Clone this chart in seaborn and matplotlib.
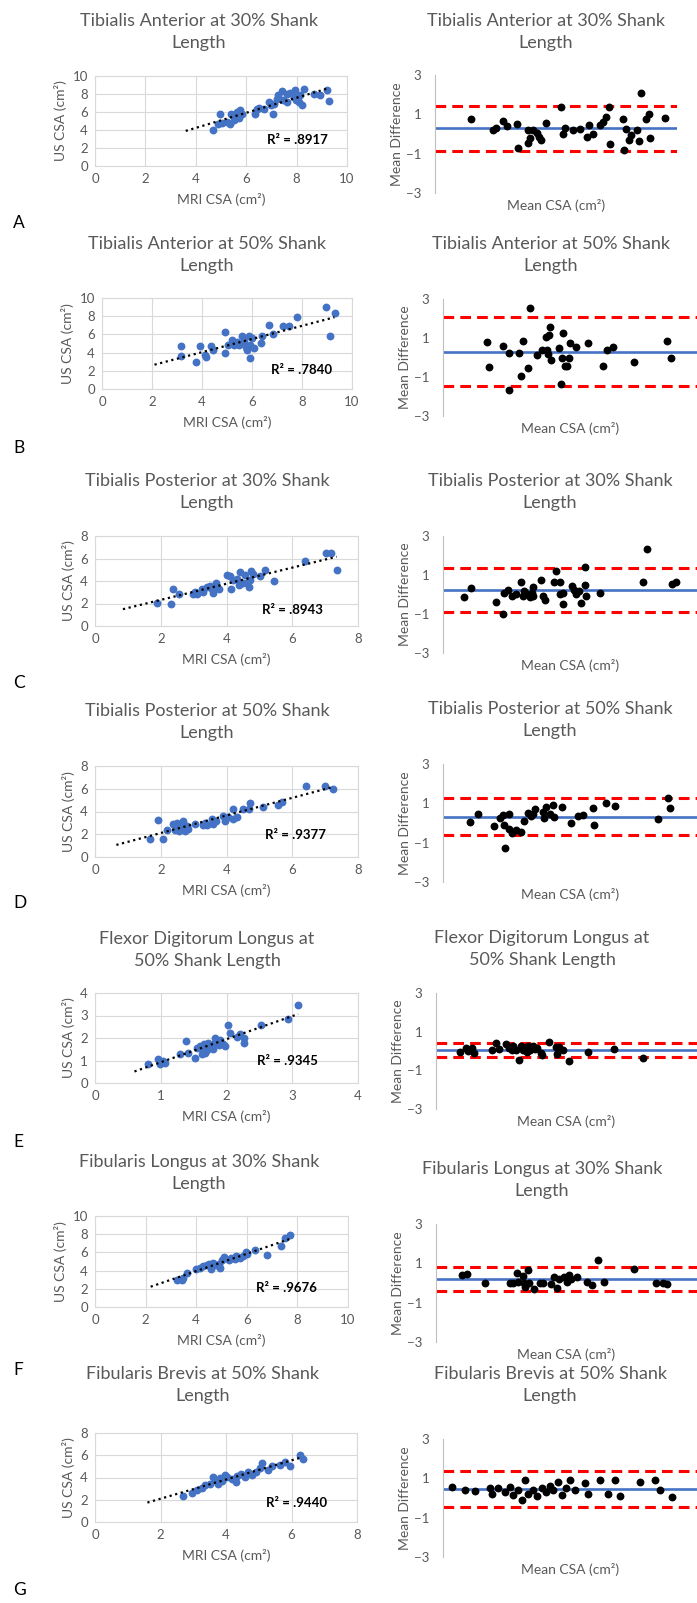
import numpy as np
import matplotlib
matplotlib.use("Agg")
import matplotlib.pyplot as plt
import seaborn as sns

sns.set_theme(style="white")
plt.rcParams['font.family'] = ['Lato', 'DejaVu Sans']

# ---- data ----
# Tibialis Anterior 30%
ta30_mri = [4.68, 4.97, 4.9, 5.03, 5.36, 5.39, 5.5, 5.56, 5.63, 5.7, 5.76, 5.83, 5.5, 5.23, 6.36, 6.42, 6.69, 6.89, 7.06, 7.09,
            7.22, 7.28, 7.42, 7.48, 7.62, 7.75, 7.95, 7.99, 8.08, 8.15, 8.21, 8.3, 7.88, 6.98, 8.68, 8.91, 9.2, 9.27, 6.49, 7.62]
ta30_us = [3.96, 5.81, 4.7, 4.78, 4.7, 5.8, 5.63, 5.26, 6.0, 5.37, 6.19, 5.81, 5.07, 4.89, 5.74, 6.37, 6.37, 7.11, 5.81, 6.93,
           7.48, 7.85, 8.33, 7.3, 7.11, 8.11, 8.41, 7.3, 7.11, 7.85, 6.74, 8.59, 7.67, 6.74, 8.04, 7.85, 8.41, 7.22, 6.48, 8.04]
ta30_mean = [1.48, 2.41, 2.51, 2.8, 2.97, 3.38, 3.41, 3.83, 3.93, 3.86, 4.04, 4.21, 4.28, 4.37, 4.59, 5.21, 5.27, 5.38, 5.7, 6.0,
             6.3, 6.37, 6.51, 6.83, 6.94, 7.08, 7.17, 7.24, 7.77, 7.83, 7.9, 8.0, 8.1, 8.34, 8.41, 8.52, 8.73, 8.86, 8.9, 9.52]
ta30_diff = [0.74, 0.19, 0.33, 0.65, 0.41, 0.5, -0.71, -0.44, -0.18, 0.19, 0.19, 0.06, -0.15, -0.32, 0.57, 1.35, 0.02, 0.33, 0.19, 0.23,
             -0.15, 0.45, -0.02, 0.45, 0.59, 0.87, 1.38, -0.52, 0.76, -0.79, 0.23, -0.32, -0.03, 0.19, -0.35, 2.06, 0.76, 1.02, -0.19, 0.79]

# Tibialis Anterior 50%
ta50_mri = [3.17, 3.17, 3.77, 3.9, 4.1, 4.17, 4.34, 4.43, 4.91, 4.91, 5.03, 5.2, 5.29, 5.38, 5.49, 5.6, 5.69, 5.75, 5.86, 5.91,
            5.93, 6.08, 6.35, 6.39, 6.68, 6.84, 7.24, 7.47, 7.78, 8.96, 9.3, 9.1, 6.0, 5.78]
ta50_us = [4.76, 3.66, 2.93, 4.76, 3.77, 3.48, 4.76, 4.25, 6.23, 3.96, 4.87, 5.42, 4.87, 5.13, 4.87, 5.86, 5.24, 4.62, 5.86, 4.87,
           3.41, 4.51, 5.05, 5.86, 7.07, 6.08, 6.89, 6.96, 7.91, 9.01, 8.35, 5.86, 5.6, 4.32]
ta50_mean = [1.73, 1.83, 2.35, 2.58, 2.61, 3.0, 3.07, 3.15, 3.33, 3.41, 3.72, 3.89, 4.06, 4.09, 4.13, 4.19, 4.22, 4.25, 4.55, 4.64,
             4.68, 4.74, 4.81, 4.9, 4.98, 5.01, 5.23, 5.7, 6.28, 6.47, 6.68, 7.52, 8.81, 8.96]
ta50_diff = [0.78, -0.5, 0.61, 0.21, -1.67, 0.21, -0.95, 0.86, -0.52, 2.52, 0.12, 0.39, 1.07, 0.39, 0.17, 1.14, 1.55, -0.12, 0.51, -1.36,
             -0.04, 1.27, -0.44, -0.44, -0.01, 0.73, 0.56, 0.76, -0.44, 0.39, 0.52, -0.23, 0.86, -0.04]

# Tibialis Posterior 30%
tp30_mri = [1.9, 2.3, 2.36, 2.54, 2.97, 3.04, 3.11, 3.25, 3.3, 3.4, 3.5, 3.55, 3.6, 3.68, 3.72, 3.78, 4.0, 4.11, 4.13, 4.21,
            4.33, 4.41, 4.39, 4.49, 4.56, 4.67, 4.7, 4.74, 4.82, 5.02, 5.17, 5.46, 6.39, 7.03, 7.17, 7.35, 4.62]
tp30_us = [2.01, 1.96, 3.32, 2.87, 2.81, 3.02, 2.81, 3.32, 3.02, 3.5, 3.53, 3.32, 2.93, 3.85, 3.5, 3.32, 4.53, 4.41, 3.32, 4.09,
           4.21, 4.83, 3.64, 3.82, 4.53, 3.5, 4.09, 4.89, 4.59, 4.41, 5.0, 4.03, 5.78, 6.46, 6.49, 4.98, 3.82]
tp30_mean = [0.81, 1.1, 2.1, 2.36, 2.41, 2.54, 2.71, 2.88, 3.07, 3.15, 3.2, 3.3, 3.41, 3.5, 3.54, 3.56, 3.85, 3.93, 4.02, 4.38,
             4.46, 4.61, 4.61, 4.74, 4.74, 5.07, 5.14, 5.23, 5.37, 5.43, 5.6, 5.6, 5.64, 6.19, 7.86, 8.02, 9.0, 9.17]
tp30_diff = [-0.13, 0.33, -0.36, -1.0, 0.1, 0.24, -0.07, 0.03, 0.62, -0.1, 0.16, 0.03, -0.13, 0.1, 0.37, -0.1, 0.75, -0.1, -0.27, 0.66,
             1.23, 0.66, 0.03, 0.1, -0.48, 0.44, 0.24, 0.03, 0.2, -0.44, 1.4, 0.5, -0.1, 0.1, 0.62, 2.32, 0.55, 0.62]

# Tibialis Posterior 50%
tp50_mri = [1.67, 1.93, 2.08, 2.18, 2.38, 2.43, 2.5, 2.57, 2.64, 2.69, 2.74, 2.84, 3.04, 3.35, 3.42, 3.55, 3.6, 3.68, 3.88, 3.96,
            4.06, 4.19, 4.21, 4.33, 4.51, 4.67, 4.7, 5.12, 5.56, 5.68, 6.42, 7.0, 7.23, 2.79, 3.3]
tp50_us = [1.62, 3.24, 1.62, 2.35, 2.88, 2.41, 2.99, 2.29, 2.79, 3.18, 2.29, 2.5, 2.94, 3.0, 2.79, 3.38, 2.94, 3.15, 3.59, 3.18,
           3.53, 4.26, 3.38, 3.53, 4.18, 4.26, 4.79, 4.41, 4.56, 4.85, 6.21, 6.26, 5.97, 2.71, 2.79]
tp50_mean = [1.05, 1.36, 2.02, 2.23, 2.36, 2.41, 2.46, 2.58, 2.58, 2.71, 2.88, 3.07, 3.17, 3.33, 3.46, 3.54, 3.63, 3.93, 3.96, 4.06,
             4.22, 4.35, 4.38, 4.68, 5.03, 5.33, 5.53, 5.92, 5.96, 6.42, 6.78, 8.48, 8.87, 8.94]
tp50_diff = [0.06, 0.45, -0.16, 0.23, 0.4, -0.11, -1.25, 0.45, -0.28, -0.5, -0.37, -0.45, 0.11, 0.53, 0.35, 0.45, 0.69, 0.57, 0.23, 0.82,
             0.45, 0.91, 0.31, 0.79, 0.01, 0.35, 0.4, 0.74, -0.11, 1.03, 0.86, 0.18, 1.28, 0.74]

# Flexor Digitorum Longus 50%
fdl50_mri = [0.8, 0.96, 0.99, 1.03, 1.06, 1.29, 1.39, 1.41, 1.52, 1.55, 1.6, 1.62, 1.65, 1.66, 1.7, 1.72, 1.76, 1.8, 1.82, 1.85,
             1.88, 1.9, 1.94, 1.98, 2.03, 2.05, 2.16, 2.2, 2.26, 2.27, 2.53, 2.94, 3.09, 1.67, 1.8]
fdl50_us = [0.86, 1.08, 0.86, 0.96, 0.89, 1.27, 1.87, 1.33, 1.13, 1.57, 1.63, 1.3, 1.45, 1.72, 1.48, 1.78, 1.6, 1.72, 2.01, 1.82,
            1.67, 1.93, 1.75, 1.63, 2.56, 2.22, 2.04, 2.19, 2.01, 1.78, 2.56, 2.83, 3.48, 1.33, 1.53]
fdl50_mean = [0.92, 1.15, 1.24, 1.37, 1.46, 2.13, 2.29, 2.41, 2.68, 2.81, 2.9, 2.96, 3.07, 3.19, 3.24, 3.35, 3.41, 3.54, 3.6, 3.7,
              3.79, 4.01, 4.05, 4.34, 4.6, 4.62, 4.73, 4.85, 5.1, 5.81, 6.82, 7.94, 3.88, 3.47]
fdl50_diff = [-0.03, 0.14, 0.02, 0.14, -0.09, 0.05, 0.43, 0.09, 0.34, 0.14, 0.05, 0.26, 0.05, -0.47, 0.26, 0.05, 0.14, 0.26, 0.05, 0.26,
              0.09, -0.09, -0.23, 0.48, 0.19, -0.18, 0.19, 0.05, -0.52, -0.03, 0.09, -0.38, 0.14, -0.03]

# Fibularis Longus 30%
fl30_mri = [3.26, 3.42, 3.49, 3.62, 4.14, 4.28, 4.41, 4.51, 4.57, 4.67, 4.78, 4.91, 4.93, 5.0, 5.09, 5.3, 5.39, 5.53, 5.66, 5.75,
            5.86, 5.96, 6.01, 6.32, 6.78, 7.34, 7.5, 7.7, 4.01, 5.59]
fl30_us = [2.93, 3.0, 3.19, 3.74, 4.32, 4.47, 4.58, 4.76, 4.18, 4.84, 4.58, 4.76, 4.32, 5.13, 5.49, 5.2, 5.42, 5.31, 5.49, 5.42,
           5.57, 6.04, 5.79, 6.3, 5.68, 6.7, 7.62, 7.88, 4.21, 5.57]
fl30_mean = [1.0, 1.19, 1.89, 2.82, 2.95, 3.1, 3.13, 3.33, 3.38, 3.42, 3.51, 3.55, 3.74, 4.0, 4.09, 4.4, 4.53, 4.63, 4.73, 4.91,
             5.01, 5.08, 5.17, 5.4, 5.8, 5.99, 6.22, 6.42, 7.59, 8.43, 8.69, 8.84]
fl30_diff = [0.4, 0.48, 0.02, 0.02, -0.01, 0.5, 0.06, 0.36, 0.02, -0.18, 0.64, -0.01, -0.28, 0.02, -0.01, -0.06, 0.33, -0.23, 0.22, 0.28,
             0.06, 0.4, 0.19, 0.33, 0.06, -0.11, 1.16, 0.07, 0.7, 0.02, 0.02, -0.06]

# Fibularis Brevis 50%
fb50_mri = [2.68, 2.96, 3.11, 3.26, 3.5, 3.66, 3.81, 3.6, 3.75, 3.87, 4.02, 4.18, 4.33, 4.3, 4.45, 4.57, 4.66, 4.79, 4.91, 5.03,
            5.09, 5.27, 5.4, 5.64, 5.79, 5.94, 6.25, 6.34, 3.35, 3.96]
fb50_us = [2.34, 2.61, 2.88, 3.06, 3.42, 3.78, 3.96, 4.05, 3.42, 3.69, 4.05, 3.87, 4.14, 3.6, 4.32, 4.05, 4.5, 4.23, 4.5, 4.86,
           5.32, 4.68, 5.05, 5.14, 5.41, 5.05, 6.04, 5.68, 3.33, 4.23]
fb50_mean = [0.35, 0.87, 1.26, 1.85, 1.93, 2.17, 2.44, 2.64, 2.76, 2.95, 3.11, 3.23, 3.35, 3.54, 3.7, 3.9, 4.06, 4.21, 4.33, 4.53,
             4.69, 4.84, 5.0, 5.2, 5.59, 5.71, 6.18, 6.5, 6.77, 6.97, 7.76, 8.35, 8.54, 9.02]
fb50_diff = [0.54, 0.39, 0.34, 0.49, 0.19, 0.49, 0.29, 0.54, 0.14, 0.39, -0.12, 0.9, 0.19, 0.39, 0.09, 0.49, 0.29, 0.59, 0.39, 0.8,
             0.14, 0.49, 0.9, 0.39, 0.75, 0.19, 0.9, 0.19, 0.9, 0.09, 0.8, 0.9, 0.39, 0.04]

titles = ["Tibialis Anterior at 30% Shank\nLength", "Tibialis Anterior at 50% Shank\nLength",
          "Tibialis Posterior at 30% Shank\nLength", "Tibialis Posterior at 50% Shank\nLength",
          "Flexor Digitorum Longus at\n50% Shank Length", "Fibularis Longus at 30% Shank\nLength",
          "Fibularis Brevis at 50% Shank\nLength"]
letters = ["A", "B", "C", "D", "E", "F", "G"]
r2_labels = [".8917", ".7840", ".8943", ".9377", ".9345", ".9676", ".9440"]
axis_max = [10, 10, 8, 8, 4, 10, 8]
trend_start = [3.6, 2.1, 0.85, 0.65, 0.6, 2.2, 1.6]
bias = [0.31, 0.30, 0.24, 0.31, 0.05, 0.19, 0.44]
loa_upper = [1.42, 2.06, 1.38, 1.28, 0.43, 0.79, 1.35]
loa_lower = [-0.86, -1.44, -0.92, -0.62, -0.33, -0.40, -0.47]

mri = [ta30_mri, ta50_mri, tp30_mri, tp50_mri, fdl50_mri, fl30_mri, fb50_mri]
us = [ta30_us, ta50_us, tp30_us, tp50_us, fdl50_us, fl30_us, fb50_us]
mean_csa = [ta30_mean, ta50_mean, tp30_mean, tp50_mean, fdl50_mean, fl30_mean, fb50_mean]
mean_diff = [ta30_diff, ta50_diff, tp30_diff, tp50_diff, fdl50_diff, fl30_diff, fb50_diff]

# ---- layout (pixels) ----
W, H = 697, 1603
left_boxes = [(95, 76, 347, 166), (102, 298, 352, 389), (95, 536, 358, 626), (95, 766, 358, 857),
              (95, 993, 358, 1083), (95, 1216, 348, 1307), (95, 1433, 357, 1522)]
right_boxes = [(435, 75, 677, 193), (443, 299, 697, 416), (443, 536, 697, 653), (443, 764, 697, 882),
               (436, 993, 697, 1109), (436, 1224, 697, 1342), (443, 1439, 697, 1557)]
left_title_pos = [(199, 32), (207, 255), (207, 492), (207, 722), (207, 950), (199, 1173), (203, 1385)]
right_title_pos = [(546, 32), (551, 255), (550, 492), (550, 720), (542, 949), (542, 1180), (550, 1385)]
r2_pos = [(328, 140), (332, 370), (323, 610), (326, 835), (318, 1061), (317, 1288), (327, 1503)]
letter_y = [223, 448, 683, 903, 1142, 1370, 1590]

GRAY = "#595959"
BLUE = "#4472C4"

fig = plt.figure(figsize=(W / 100, H / 100), dpi=100)
fig.patch.set_facecolor("white")


def px_axes(box):
    l, t, r, b = box
    return fig.add_axes([l / W, 1 - b / H, (r - l) / W, (b - t) / H])


for i in range(7):
    # MRI vs US scatter
    ax = px_axes(left_boxes[i])
    sns.scatterplot(x=mri[i], y=us[i], ax=ax, color=BLUE, s=32, edgecolor=BLUE, linewidth=0, zorder=3)
    k, c = np.polyfit(mri[i], us[i], 1)
    xs = np.array([trend_start[i], max(mri[i])])
    ax.plot(xs, k * xs + c, color="black", linestyle=(0, (1, 1.6)), linewidth=1.6, zorder=4)
    m = axis_max[i]
    step = 1 if m == 4 else 2
    ax.set_xlim(0, m)
    ax.set_ylim(0, m)
    ax.set_xticks(np.arange(0, m + 0.1, step))
    ax.set_yticks(np.arange(0, m + 0.1, step))
    ax.grid(True, color="#D9D9D9", linewidth=0.8)
    ax.set_axisbelow(True)
    for sp in ax.spines.values():
        sp.set_color("#D9D9D9")
        sp.set_linewidth(0.8)
    ax.tick_params(length=0, labelsize=9.5, labelcolor=GRAY, pad=5)
    ax.set_xlabel("MRI CSA (cm²)", fontsize=10, color=GRAY, labelpad=6)
    ax.set_ylabel("US CSA (cm²)", fontsize=10, color=GRAY, labelpad=4)
    fig.text(left_title_pos[i][0] / W, 1 - left_title_pos[i][1] / H, titles[i], ha="center", va="center",
             fontsize=13, color=GRAY, linespacing=1.45)
    fig.text(r2_pos[i][0] / W, 1 - r2_pos[i][1] / H, "R² = " + r2_labels[i], ha="right", va="center",
             fontsize=9.5, fontweight="bold", color="black")
    fig.text(13 / W, 1 - letter_y[i] / H, letters[i], ha="left", va="center", fontsize=12.5, color="black")

    # Bland-Altman
    bx = px_axes(right_boxes[i])
    bx.axhline(bias[i], color=BLUE, linewidth=1.9, zorder=2)
    bx.axhline(loa_upper[i], color="red", linewidth=2.2, linestyle=(0, (3.5, 2)), zorder=2)
    bx.axhline(loa_lower[i], color="red", linewidth=2.2, linestyle=(0, (3.5, 2)), zorder=2)
    sns.scatterplot(x=mean_csa[i], y=mean_diff[i], ax=bx, color="black", s=32, edgecolor="black",
                    linewidth=0, zorder=3)
    bx.set_xlim(0, 10)
    bx.set_ylim(-3, 3)
    bx.set_yticks([3, 1, -1, -3])
    bx.set_xticks([])
    for name in ["top", "right", "bottom"]:
        bx.spines[name].set_visible(False)
    bx.spines["left"].set_color("#BFBFBF")
    bx.spines["left"].set_linewidth(0.8)
    bx.tick_params(length=0, labelsize=9.5, labelcolor=GRAY, pad=10)
    bx.set_facecolor("none")
    bx.set_xlabel("Mean CSA (cm²)", fontsize=10, color=GRAY, labelpad=4)
    bx.set_ylabel("Mean Difference", fontsize=10, color=GRAY, labelpad=2)
    fig.text(right_title_pos[i][0] / W, 1 - right_title_pos[i][1] / H, titles[i], ha="center", va="center",
             fontsize=13, color=GRAY, linespacing=1.45)

fig.savefig("out.png", dpi=100, facecolor="white")
